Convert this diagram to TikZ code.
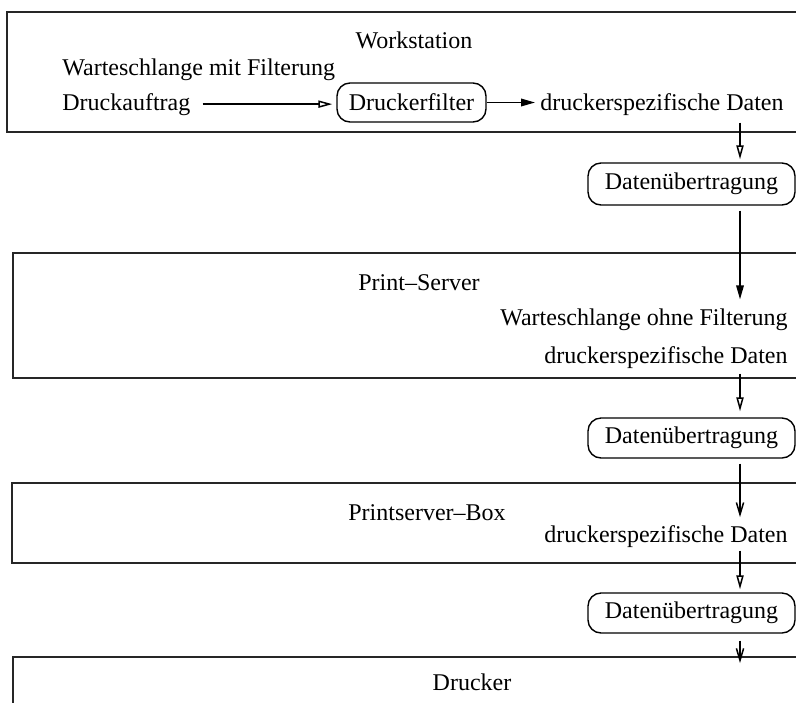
\documentclass[tikz,border=0pt]{standalone}
\usepackage{fontspec}
\setmainfont{Liberation Serif}
\usetikzlibrary{arrows.meta}

\tikzset{
  lbl/.style={inner sep=0pt, font=\fontsize{12}{14}\selectfont},
  pill/.style={draw, line width=0.7pt, rounded corners=6.5pt, inner sep=0pt,
               font=\fontsize{12}{14}\selectfont},
  frame/.style={draw, line width=0.9pt, black!85},
  flow/.style={line width=0.75pt},
  openhead/.style={flow, -{Triangle[open,length=7pt,width=3.6pt]}},
  fullhead/.style={flow, -{Triangle[length=7pt,width=3.8pt]}},
  barbhead/.style={flow, -{Straight Barb[length=6pt,width=3.6pt]}}
}

\begin{document}
\begin{tikzpicture}[x=0.5pt, y=-0.5pt]
  \useasboundingbox (0,0) rectangle (796,702);
  \clip (0,0) rectangle (796,702);

  % the four machines
  \draw[frame] (7,12)  rectangle (830,132);
  \draw[frame] (13,253) rectangle (830,378);
  \draw[frame] (12,483) rectangle (830,563);
  \draw[frame] (13,657) rectangle (830,730);

  % machine titles
  \node[lbl, anchor=base] (ws)  at (414,48)  {Workstation};
  \node[lbl, anchor=base] (ps)  at (419,290) {Print–Server};
  \node[lbl, anchor=base] (psb) at (427,520) {Printserver–Box};
  \node[lbl, anchor=base] (dr)  at (472,690) {Drucker};

  % workstation contents
  \node[lbl, anchor=base west] (wmf) at (62,75)  {Warteschlange mit Filterung};
  \node[lbl, anchor=base west] (da)  at (62,110) {Druckauftrag};
  \node[pill, minimum width=74.5pt, minimum height=19.5pt] (filt) at (411.5,102.5) {Druckerfilter};
  \node[lbl, anchor=base west] (d1)  at (540,110) {druckerspezifische Daten};

  % transfers and server contents
  \coordinate (col) at (740,0);
  \node[pill, minimum width=103.5pt, minimum height=21pt] (u1) at (691.5,184) {Datenübertragung};
  \node[lbl, anchor=base east] (wo) at (788,325) {Warteschlange ohne Filterung};
  \node[lbl, anchor=base east] (d2) at (788,363) {druckerspezifische Daten};
  \node[pill, minimum width=103.5pt, minimum height=20pt] (u2) at (691.5,438) {Datenübertragung};
  \node[lbl, anchor=base east] (d3) at (788,542) {druckerspezifische Daten};
  \node[pill, minimum width=103.5pt, minimum height=20pt] (u3) at (691.5,613) {Datenübertragung};
  \coordinate (drk) at (740,663);

  % data flow
  \draw[openhead, shorten <=6pt, shorten >=2pt] (da.east) -- (da.east -| filt.west);
  \draw[fullhead, shorten >=2.5pt] (filt.east) -- (filt.east -| d1.west);
  \draw[openhead, shorten <=3.5pt, shorten >=1.5pt] (d1.south -| col) -- (u1.north -| col);
  \draw[fullhead, shorten <=2.5pt, shorten >=4.3pt] (u1.south -| col) -- (wo.north -| col);
  \draw[openhead, shorten <=2.5pt, shorten >=3pt] (d2.south -| col) -- (u2.north -| col);
  \draw[barbhead, shorten <=2.5pt, shorten >=3.8pt] (u2.south -| col) -- (d3.north -| col);
  \draw[openhead, shorten <=1.5pt, shorten >=1.5pt] (d3.south -| col) -- (u3.north -| col);
  \draw[barbhead, shorten <=3.5pt] (u3.south -| col) -- (drk);
\end{tikzpicture}
\end{document}
